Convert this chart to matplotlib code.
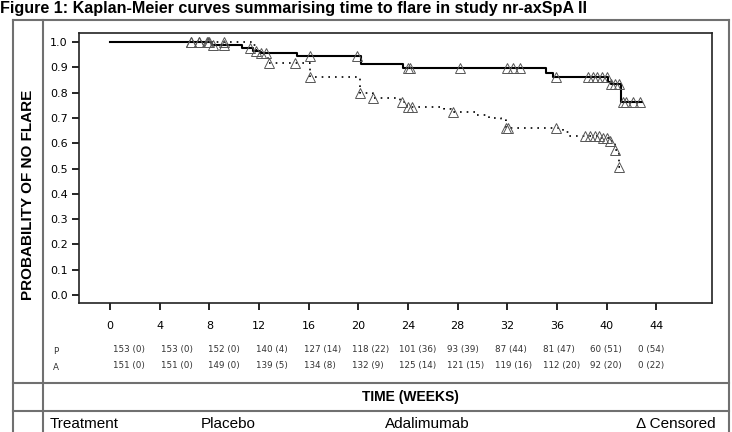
import numpy as np
import matplotlib.pyplot as plt
from matplotlib.lines import Line2D

# Kaplan-Meier step data (week, survival after the step)
ada_t = [0, 8.2, 10.6, 11.5, 12.1, 15.1, 20.2, 23.6, 35.1, 35.7, 40.1, 40.4, 41.2, 42.9]
ada_s = [1.0, 0.987, 0.975, 0.965, 0.955, 0.945, 0.913, 0.898, 0.879, 0.862, 0.843, 0.835, 0.762, 0.762]
ada_cens = [6.5, 7.2, 7.8, 8.0, 8.3, 9.2, 11.3, 11.8, 12.2, 12.6, 16.1, 19.9, 24.0, 24.2, 28.2,
            32.0, 32.5, 33.0, 35.9, 38.5, 38.9, 39.2, 39.6, 40.0, 40.4, 40.7, 41.0, 41.3, 41.6,
            42.1, 42.7]

pbo_t = [0, 11.4, 11.8, 12.2, 12.7, 16.1, 20.1, 21.2, 23.4, 23.9, 26.9, 27.5, 29.5, 30.5, 31.5,
         31.9, 36.5, 37.0, 39.5, 40.2, 40.7, 41.0, 41.2]
pbo_s = [1.0, 0.988, 0.968, 0.957, 0.918, 0.863, 0.797, 0.778, 0.764, 0.743, 0.735, 0.722, 0.71,
         0.70, 0.692, 0.66, 0.645, 0.628, 0.622, 0.61, 0.573, 0.506, 0.506]
pbo_cens = [6.5, 7.2, 7.9, 9.2, 12.8, 14.9, 16.1, 20.1, 21.2, 23.5, 24.0, 24.3, 27.6, 31.9, 32.1,
            35.9, 38.3, 38.7, 39.1, 39.4, 39.7, 40.0, 40.3, 40.7, 41.0]

# numbers at risk (events)
risk_weeks = [0, 4, 8, 12, 16, 20, 24, 28, 32, 36, 40, 44]
risk_p = ['153 (0)', '153 (0)', '152 (0)', '140 (4)', '127 (14)', '118 (22)', '101 (36)',
          '93 (39)', '87 (44)', '81 (47)', '60 (51)', '0 (54)']
risk_a = ['151 (0)', '151 (0)', '149 (0)', '139 (5)', '134 (8)', '132 (9)', '125 (14)',
          '121 (15)', '119 (16)', '112 (20)', '92 (20)', '0 (22)']

W, H = 732, 432
fig = plt.figure(figsize=(W / 100, H / 100), dpi=100)


def fx(px):
    return px / W


def fy(py):
    return 1 - py / H


def step_val(t, s, x):
    i = np.searchsorted(t, x, side='right') - 1
    return np.array(s)[i]


ax = fig.add_axes([fx(79), fy(303), fx(712) - fx(79), fy(33) - fy(303)])
ax.step(ada_t, ada_s, where='post', color='black', lw=1.5)
ax.step(pbo_t, pbo_s, where='post', color='black', lw=1.2, linestyle=(0, (1, 3)))
ax.plot(ada_cens, step_val(ada_t, ada_s, ada_cens), '^', ms=6.5, mfc='none', mec='#555555', mew=0.7)
ax.plot(pbo_cens, step_val(pbo_t, pbo_s, pbo_cens), '^', ms=6.5, mfc='none', mec='#555555', mew=0.7)

ax.set_xlim(-2.5, 48.5)
ax.set_ylim(-0.032, 1.036)
ax.set_xticks(range(0, 45, 4))
ax.set_yticks(np.arange(0, 1.01, 0.1))
ax.set_yticklabels(['%.1f' % v for v in np.arange(0, 1.01, 0.1)])
ax.tick_params(direction='out', length=5, width=1.2, labelsize=8, colors='black', pad=8)
ax.tick_params(axis='y', pad=3)
for sp in ax.spines.values():
    sp.set_linewidth(1.2)
    sp.set_color('#222222')

# risk table
rax = fig.add_axes([fx(79), fy(375), fx(712) - fx(79), fy(340) - fy(375)])
rax.set_xlim(-2.85, 50.2)
rax.set_ylim(0, 1)
rax.axis('off')
for wk, p_txt, a_txt in zip(risk_weeks, risk_p, risk_a):
    rax.text(wk, 0.72, p_txt, fontsize=6.3, color='#333333', ha='left', va='center')
    rax.text(wk, 0.28, a_txt, fontsize=6.3, color='#333333', ha='left', va='center')
fig.text(fx(53), fy(351), 'P', fontsize=6.3, color='#333333', va='center')
fig.text(fx(53), fy(367), 'A', fontsize=6.3, color='#333333', va='center')

# frame lines
frame_col = '#707070'
segs = [((13, 20), (729, 20)), ((13, 20), (13, 432)), ((729, 20), (729, 432)),
        ((43, 20), (43, 432)), ((13, 383), (729, 383)), ((13, 411), (729, 411))]
for (x0, y0), (x1, y1) in segs:
    fig.add_artist(Line2D([fx(x0), fx(x1)], [fy(y0), fy(y1)], color=frame_col, lw=1.5,
                          transform=fig.transFigure))

fam = 'Liberation Sans'
fig.text(0.0, fy(8), 'Figure 1: Kaplan-Meier curves summarising time to flare in study nr-axSpA II',
         family=fam, fontweight='bold', fontsize=11.6, va='center', ha='left')
fig.text(fx(28), fy(195), 'PROBABILITY OF NO FLARE', family=fam, fontweight='bold', fontsize=11,
         rotation=90, ha='center', va='center')
fig.text(fx(410), fy(397), 'TIME (WEEKS)', family=fam, fontweight='bold', fontsize=10,
         ha='center', va='center')
for x, txt in [(50, 'Treatment'), (201, 'Placebo'), (385, 'Adalimumab'), (636, 'Δ Censored')]:
    fig.text(fx(x), fy(424), txt, family=fam, fontsize=11, ha='left', va='center')

fig.savefig('out.png', dpi=100)
